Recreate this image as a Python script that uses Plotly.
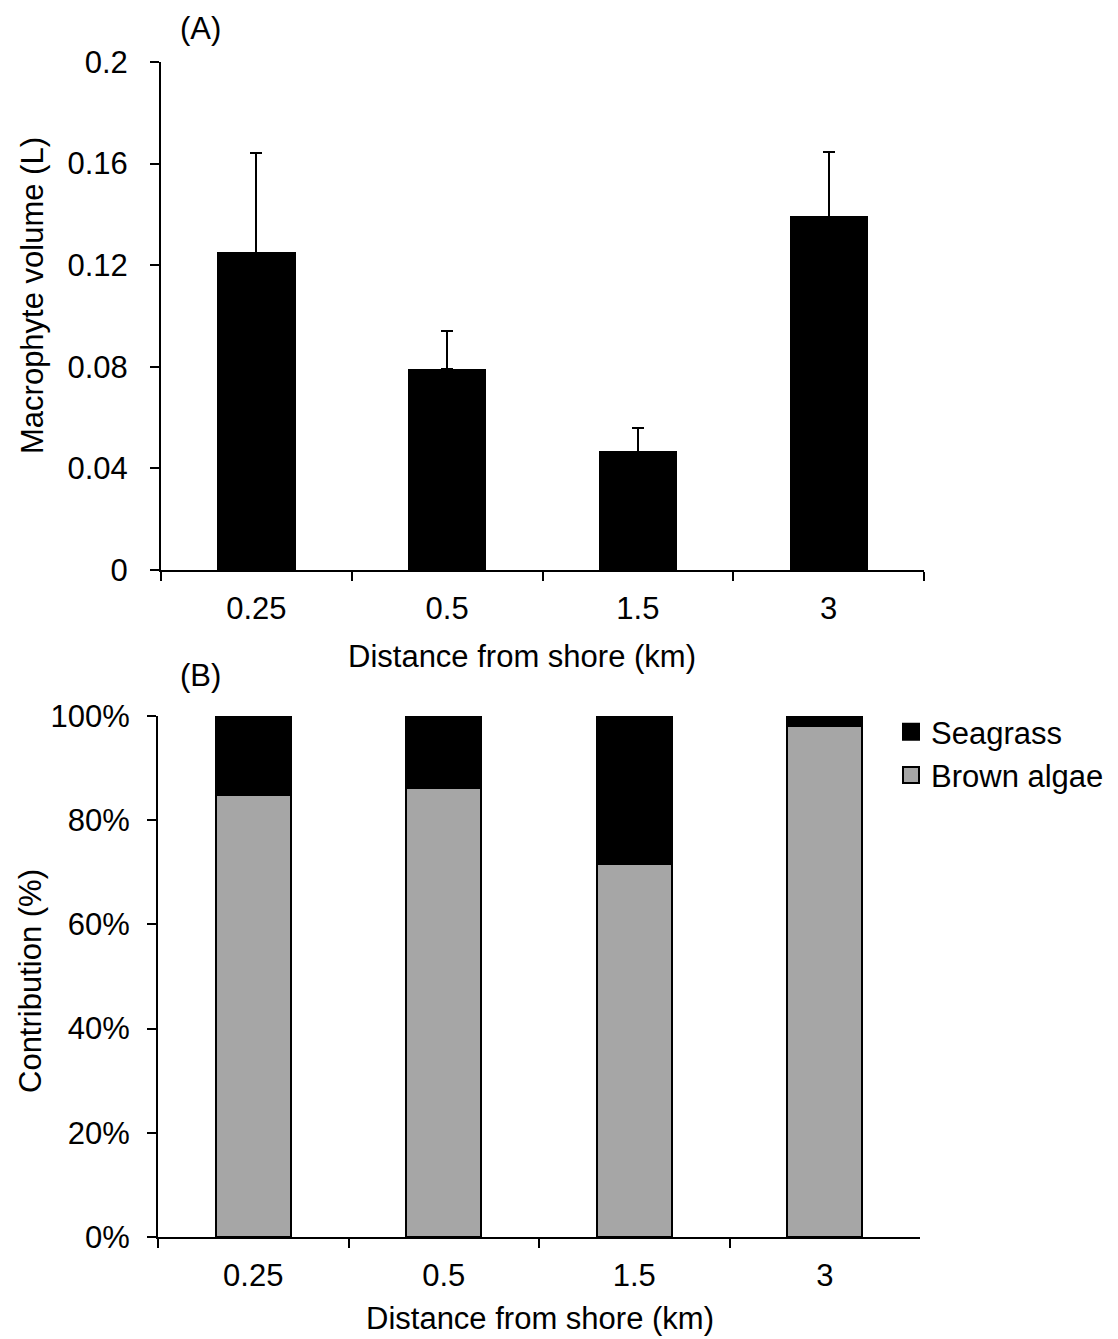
import plotly.graph_objects as go

# Distance classes (km) shared by both panels
distances = ["0.25", "0.5", "1.5", "3"]

# Panel A: mean macrophyte volume (L) and its standard error
volume = [0.125, 0.079, 0.0465, 0.139]
volume_se = [0.039, 0.015, 0.0095, 0.0255]

# Panel B: percentage contribution of each macrophyte group
brown_algae = [84.8, 86.2, 71.5, 98.1]
seagrass = [15.2, 13.8, 28.5, 1.9]

W, H = 1118, 1339
FONT = "Liberation Sans, Arial, sans-serif"
FS = 31
GREY = "#A6A6A6"


def px_x(v):
    return v / W


def px_y(v):
    return 1 - v / H


fig = go.Figure()

# (A) volume bars with upper error bars
fig.add_trace(go.Bar(
    x=distances, y=volume,
    width=0.405,
    marker=dict(color="black", line=dict(color="black", width=1)),
    error_y=dict(type="data", array=volume_se, arrayminus=[0] * len(volume_se),
                 symmetric=False, color="black", thickness=2, width=6),
    xaxis="x", yaxis="y", showlegend=False,
))

# (B) stacked contributions
fig.add_trace(go.Bar(
    x=distances, y=brown_algae, name="Brown algae",
    width=0.395,
    marker=dict(color=GREY, line=dict(color="black", width=2)),
    xaxis="x2", yaxis="y2", showlegend=False,
))
fig.add_trace(go.Bar(
    x=distances, y=seagrass, name="Seagrass",
    width=0.395,
    marker=dict(color="black", line=dict(color="black", width=2)),
    xaxis="x2", yaxis="y2", showlegend=False,
))

# Legend keys
for name, colour in [("Seagrass", "black"), ("Brown algae", GREY)]:
    fig.add_trace(go.Scatter(
        x=[None], y=[None], name=name, mode="markers",
        marker=dict(symbol="square", size=16, color=colour,
                    line=dict(color="black", width=2)),
        xaxis="x2", yaxis="y2", showlegend=True,
    ))

axis_common = dict(
    showline=True, linecolor="black", linewidth=2,
    ticks="outside", ticklen=9, tickwidth=2, tickcolor="black",
    showgrid=False, zeroline=False, automargin=False,
    tickfont=dict(family=FONT, size=FS, color="black"),
)

fig.update_layout(
    width=W, height=H,
    margin=dict(l=0, r=0, t=0, b=0, autoexpand=False),
    paper_bgcolor="white", plot_bgcolor="white",
    barmode="stack",
    font=dict(family=FONT, size=FS, color="black"),
    xaxis=dict(domain=[px_x(161), px_x(924)], anchor="y",
               type="category", tickson="boundaries",
               ticklabelstandoff=10, **axis_common),
    yaxis=dict(domain=[px_y(570), px_y(62)], anchor="x",
               range=[0, 0.2], tick0=0, dtick=0.04,
               ticklabelstandoff=16, **axis_common),
    xaxis2=dict(domain=[px_x(158), px_x(920)], anchor="y2",
                type="category", tickson="boundaries",
                ticklabelstandoff=10, **axis_common),
    yaxis2=dict(domain=[px_y(1237), px_y(716)], anchor="x2",
                range=[0, 100], tick0=0, dtick=20, ticksuffix="%",
                ticklabelstandoff=11, **axis_common),
    legend=dict(x=px_x(891), y=px_y(705), xanchor="left", yanchor="top",
                traceorder="normal", bgcolor="rgba(0,0,0,0)",
                font=dict(family=FONT, size=FS, color="black"),
                itemclick=False),
    showlegend=True,
)

annotations = [
    dict(text="(A)", x=px_x(178), y=px_y(28), xanchor="left", yanchor="middle"),
    dict(text="(B)", x=px_x(178), y=px_y(675), xanchor="left", yanchor="middle"),
    dict(text="Distance from shore (km)", x=px_x(522), y=px_y(656),
         xanchor="center", yanchor="middle"),
    dict(text="Distance from shore (km)", x=px_x(540), y=px_y(1318),
         xanchor="center", yanchor="middle"),
    dict(text="Macrophyte volume (L)", x=px_x(33), y=px_y(296),
         xanchor="center", yanchor="middle", textangle=-90),
    dict(text="Contribution (%)", x=px_x(30), y=px_y(981),
         xanchor="center", yanchor="middle", textangle=-90),
]
for a in annotations:
    a.update(xref="paper", yref="paper", showarrow=False,
             font=dict(family=FONT, size=FS, color="black"))
fig.update_layout(annotations=annotations)

fig.write_html("out.html")
